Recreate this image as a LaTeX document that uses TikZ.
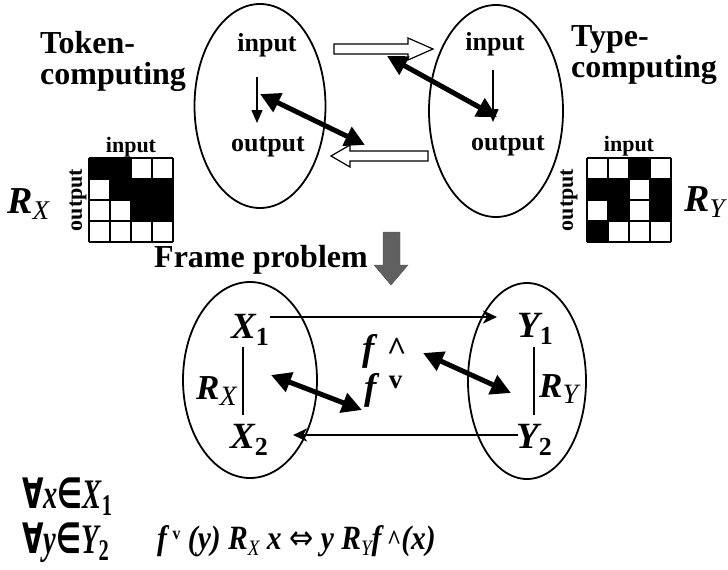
\documentclass[tikz,border=0pt]{standalone}
\usepackage{fontspec}
\setmainfont{Liberation Serif}
\newfontfamily\condser{Liberation Serif}[FakeStretch=0.87]
\newfontfamily\condserb{Liberation Serif}[FakeStretch=0.68]
\newfontfamily\symfnt{DejaVu Sans}[FakeStretch=0.85]
\newfontfamily\symfntb{DejaVu Sans}[FakeStretch=0.66]
\usetikzlibrary{arrows.meta,shapes.geometric}
\newcommand\fs[1]{\fontsize{#1}{#1}\selectfont}
\tikzset{
  ell/.style={draw, ellipse, line width=1.8pt, inner sep=0pt},
  lbl/.style={inner sep=0pt, font=\fs{26}\bfseries},
  big/.style={inner sep=0pt, font=\fontsize{32}{31}\selectfont\bfseries, align=left},
  small/.style={inner sep=0pt, font=\fs{22}\bfseries},
  thick2/.style={line width=5pt, {Triangle[length=20pt,width=20pt]}-{Triangle[length=20pt,width=20pt]}},
  thin1/.style={line width=1.5pt, -{Triangle[length=13pt,width=11pt]}},
  harrow/.style={line width=2.5pt, -{Stealth[length=14pt,width=13pt,inset=4pt]}},
  openarrow/.style={draw, line width=1.2pt, fill=white},
  cell/.style={line width=1.5pt},
  math/.style={inner sep=0pt, font=\fs{37}\bfseries\itshape},
}
\newcommand\BX[3]{{\bfseries\itshape #2}\raisebox{-7pt}{\fs{#1}\bfseries\upshape #3}}
\newcommand\RR[2]{{\bfseries\itshape R}\raisebox{-6pt}{\fs{#1}\mdseries\itshape #2}}
\begin{document}
\begin{tikzpicture}[x=1pt,y=-1pt]
\useasboundingbox (0,0) rectangle (728,570);
% ---------- top ellipses ----------
\node[ell, minimum width=131pt, minimum height=204pt] (EL) at (260,106) {};
\node[ell, minimum width=134pt, minimum height=212pt] (ER) at (496,111) {};
\node[lbl] (inL) at (267,45) {input};
\node[lbl] (outL) at (268,147) {output};
\node[lbl] (inR) at (495,44) {input};
\node[lbl] (outR) at (508,146) {output};
\coordinate (dLa) at (257,77); \coordinate (dLb) at (257,123);
\coordinate (dRa) at (493,70); \coordinate (dRb) at (493,122);
\draw[thin1] (dLa) -- (dLb);
\draw[thin1] (dRa) -- (dRb);
\node[big, anchor=north west] (tok) at (40,31) {Token-\\computing};
\node[big, anchor=north west] (typ) at (571,25) {Type-\\computing};
% open arrows
\draw[openarrow] (334,44) -- (408,44) -- (408,38) -- (433,49) -- (408,60) -- (408,54) -- (334,54) -- cycle;
\draw[openarrow] (428,151) -- (350,151) -- (350,145) -- (331,156) -- (350,167) -- (350,161) -- (428,161) -- cycle;
% thick double arrows
\coordinate (a1) at (260,94); \coordinate (a2) at (365,145);
\coordinate (b1) at (387,56); \coordinate (b2) at (497,117);
\draw[thick2] (a1) -- (a2);
\draw[thick2] (b1) -- (b2);
% ---------- matrices ----------
\begin{scope}[shift={(89,158)}]
  \fill (0,0) rectangle (42,21);
  \fill (21,21) rectangle (84,42);
  \fill (42,42) rectangle (84,63);
  \foreach \k in {0,21,42,63,84} {\draw[cell] (\k,0) -- (\k,84); \draw[cell] (0,\k) -- (84,\k);}
\end{scope}
\begin{scope}[shift={(587,158)}]
  \fill (42,0) rectangle (63,21);
  \fill (0,21) rectangle (42,42);
  \fill (63,21) rectangle (84,63);
  \fill (21,42) rectangle (42,63);
  \fill (0,63) rectangle (21,84);
  \foreach \k in {0,21,42,63,84} {\draw[cell] (\k,0) -- (\k,84); \draw[cell] (0,\k) -- (84,\k);}
\end{scope}
\node[small] (miL) at (131,147) {input};
\node[small, rotate=90] (moL) at (78,200) {output};
\node[small] (miR) at (629,146) {input};
\node[small, rotate=90] (moR) at (569,200) {output};
\node[inner sep=0pt, font=\fs{38}, anchor=west] (RXt) at (7,204) {\RR{27}{X}};
\node[inner sep=0pt, font=\fs{38}, anchor=west] (RYt) at (684,202) {\RR{27}{Y}};
% ---------- frame problem ----------
\node[inner sep=0pt, font=\fs{32}\bfseries, anchor=west] (fp) at (154,260) {Frame problem};
\fill[gray!75!black, draw=gray!60!black] (383,232) -- (400,232) -- (400,265) -- (408,265) -- (391,285) -- (374,265) -- (383,265) -- cycle;
% ---------- bottom ellipses ----------
\node[ell, minimum width=134pt, minimum height=196pt] (BL) at (250,380) {};
\node[ell, minimum width=118pt, minimum height=196pt] (BR) at (527,381) {};
\node[math] (X1) at (250,330) {\BX{26}{X}{1}};
\node[math] (X2) at (249,440) {\BX{26}{X}{2}};
\node[math] (Y1) at (535,329) {\BX{26}{Y}{1}};
\node[math] (Y2) at (534,440) {\BX{26}{Y}{2}};
\node[inner sep=0pt, font=\fs{35}, anchor=west] (RXb) at (196,391) {\RR{28}{X}};
\node[inner sep=0pt, font=\fs{35}, anchor=west] (RYb) at (539,389) {\RR{28}{Y}};
\coordinate (lx1) at (243,347); \coordinate (lx2) at (243,415);
\coordinate (ly1) at (534,347); \coordinate (ly2) at (534,415);
\draw[line width=1.8pt] (lx1) -- (lx2);
\draw[line width=1.8pt] (ly1) -- (ly2);
\node[math, anchor=west] (fup) at (362,351) {f\,\,{\fs{34}\upshape\textasciicircum}};
\node[math, anchor=west] (fdn) at (364,390) {f\,\,\raisebox{11pt}{\fs{27}\upshape v}};
\coordinate (h1) at (270,317); \coordinate (h2) at (497,317);
\coordinate (h3) at (518,435); \coordinate (h4) at (293,435);
\draw[harrow] (h1) -- (h2);
\draw[harrow] (h3) -- (h4);
\coordinate (c1) at (271,375); \coordinate (c2) at (362,410);
\coordinate (d1) at (423,353); \coordinate (d2) at (511,393);
\draw[thick2] (c1) -- (c2);
\draw[thick2] (d1) -- (d2);
% ---------- formulas ----------
\node[inner sep=0pt, font=\fs{42}\condserb, anchor=west] (q1) at (22,497) {{\symfntb\bfseries ∀}{\bfseries\itshape x}{\symfntb\bfseries ∈}\BX{30}{X}{1}};
\node[inner sep=0pt, font=\fs{42}\condserb, anchor=west] (q2) at (22,543) {{\symfntb\bfseries ∀}{\bfseries\itshape y}{\symfntb\bfseries ∈}\BX{30}{Y}{2}};
\node[inner sep=0pt, font=\fs{34}\condser\bfseries\itshape, anchor=west] (eq) at (157,541)
  {f\,\raisebox{10pt}{\fs{18}\upshape v} (y) \RR{22}{X} x {\upshape\symfnt\mdseries ⇔} y \RR{22}{Y}f\,{\fs{28}\upshape\textasciicircum}(x)};
\end{tikzpicture}
\end{document}
